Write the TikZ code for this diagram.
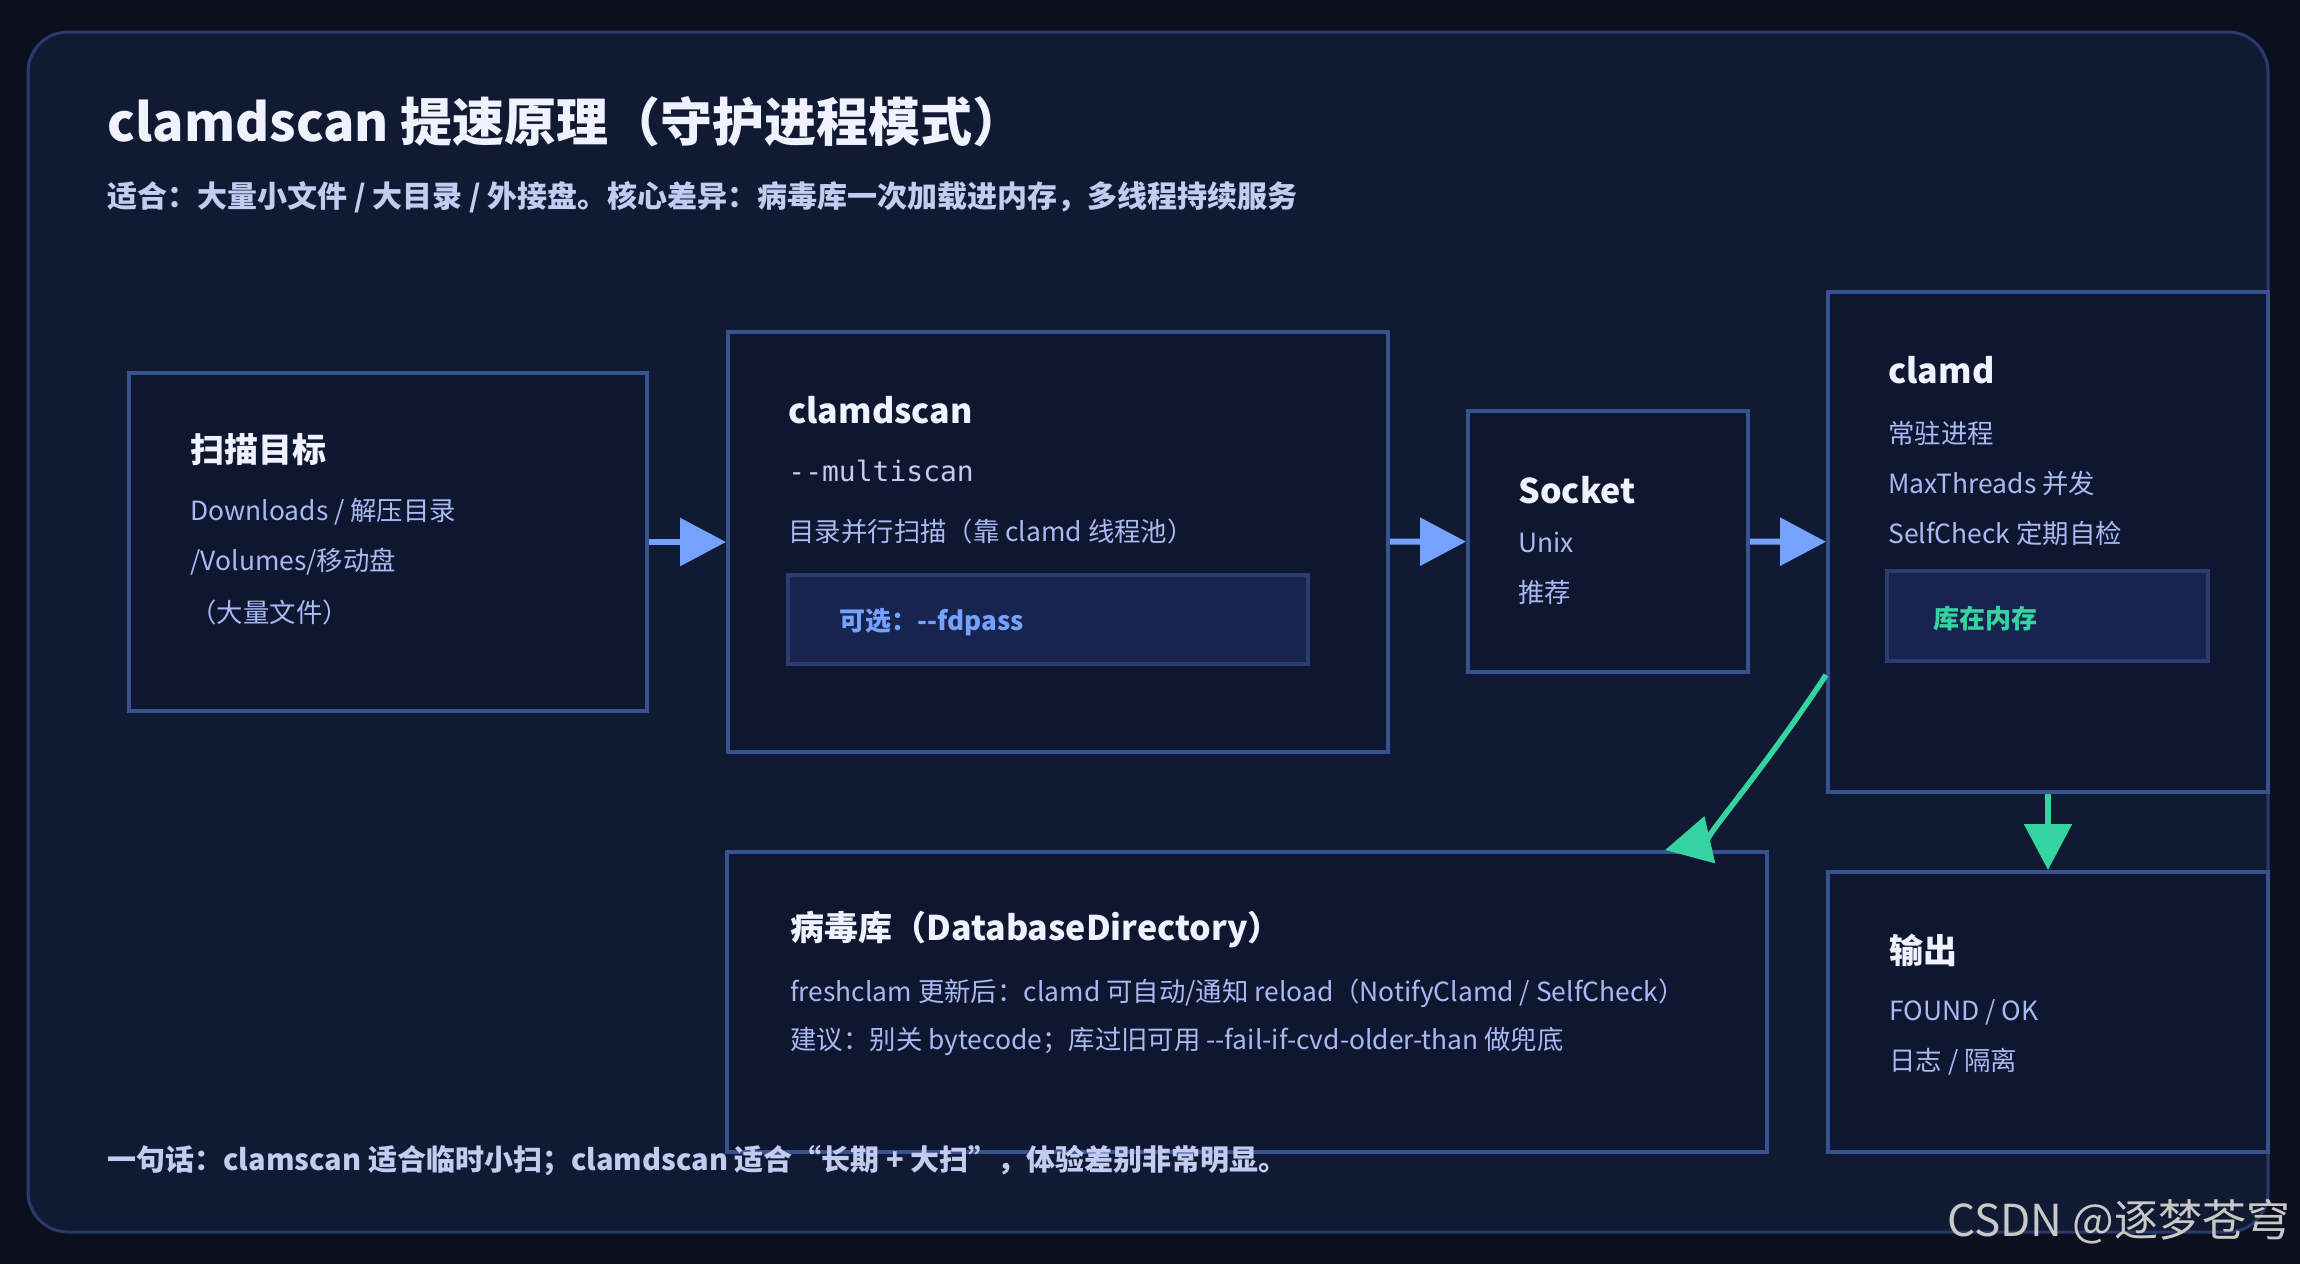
\documentclass[tikz,border=0pt]{standalone}
\usepackage{fontspec}
\setmainfont{Noto Sans CJK SC}
\setmonofont{DejaVu Sans Mono}
\usetikzlibrary{arrows.meta}

\definecolor{pagebg}{HTML}{0B0F1E}
\definecolor{panelbg}{HTML}{111A33}
\definecolor{panelrim}{HTML}{2A3A6C}
\definecolor{boxbg}{HTML}{0E1630}
\definecolor{boxrim}{HTML}{36528F}
\definecolor{tagbg}{HTML}{17244F}
\definecolor{tagrim}{HTML}{2A3C70}
\definecolor{flowblue}{HTML}{76A2FF}
\definecolor{mint}{HTML}{34D3A0}
\definecolor{headtxt}{HTML}{F0F3FF}
\definecolor{bodytxt}{HTML}{A9B9F2}
\definecolor{leadtxt}{HTML}{C3CCF0}
\definecolor{wmark}{HTML}{C8C8C8}

\tikzset{
  box/.style={rectangle,draw=boxrim,line width=2pt,fill=boxbg,inner sep=0pt},
  tag/.style={rectangle,draw=tagrim,line width=2pt,fill=tagbg,inner sep=0pt},
  head/.style={anchor=west,inner sep=0pt,text=headtxt,font=\bfseries\fontsize{17}{20}\selectfont},
  body/.style={anchor=west,inner sep=0pt,text=bodytxt,font=\fontsize{13.2}{16}\selectfont},
  lead/.style={anchor=west,inner sep=0pt,text=leadtxt,font=\bfseries\fontsize{14.5}{17}\selectfont},
  flow/.style={draw=flowblue,line width=3pt,-{Triangle[length=23pt,width=23.5pt]}},
  feed/.style={draw=mint,line width=2.75pt,-{Triangle[length=23pt,width=23.5pt]}}
}

\begin{document}
\begin{tikzpicture}[x=0.5pt,y=-0.5pt]
  \useasboundingbox (0,0) rectangle (2300,1264);
  \fill[pagebg] (0,0) rectangle (2300,1264);
  \draw[rounded corners=20pt,line width=1.5pt,draw=panelrim,fill=panelbg] (28,32) rectangle (2268,1232);

  \node[anchor=west,inner sep=0pt,text=headtxt,font=\bfseries\fontsize{26}{30}\selectfont] (title) at (107,122) {clamdscan 提速原理（守护进程模式）};
  \node[lead,font=\bfseries\fontsize{15}{18}\selectfont] (subtitle) at (107,197) {适合：大量小文件 / 大目录 / 外接盘。核心差异：病毒库一次加载进内存，多线程持续服务};

  \node[box,minimum width=259pt,minimum height=169pt] (target) at (388,542) {};
  \node[box,minimum width=330pt,minimum height=210pt] (client) at (1058,542) {};
  \node[tag,minimum width=260pt,minimum height=44.5pt] (fdpass) at (1048,619.5) {};
  \node[box,minimum width=140pt,minimum height=130.5pt] (socket) at (1608,541.5) {};
  \node[box,minimum width=220pt,minimum height=250pt] (daemon) at (2048,542) {};
  \node[tag,minimum width=160.5pt,minimum height=45pt] (inmem) at (2047.5,616) {};
  \node[box,minimum width=520pt,minimum height=150pt] (db) at (1247,1002) {};
  \node[box,minimum width=220pt,minimum height=140pt] (result) at (2048,1012) {};

  \node[head] (target-h) at (190,450) {扫描目标};
  \node[body] (target-1) at (190,512) {Downloads / 解压目录};
  \node[body] (target-2) at (190,562) {/Volumes/移动盘};
  \node[body] (target-3) at (190,612) {（大量文件）};

  \node[head] (client-h) at (788,410) {clamdscan};
  \node[body,text=leadtxt,font=\ttfamily\fontsize{14}{16}\selectfont] (client-1) at (788,471) {--multiscan};
  \node[body] (client-2) at (788,531) {目录并行扫描（靠 clamd 线程池）};
  \node[body,text=flowblue,font=\bfseries\fontsize{13}{16}\selectfont] (fdpass-t) at (839,622) {可选：-\kern0pt-fdpass};

  \node[head] (socket-h) at (1518,490) {Socket};
  \node[body] (socket-1) at (1518,542) {Unix};
  \node[body] (socket-2) at (1518,592) {推荐};

  \node[head] (daemon-h) at (1888,370) {clamd};
  \node[body] (daemon-1) at (1888,433) {常驻进程};
  \node[body] (daemon-2) at (1888,483) {MaxThreads 并发};
  \node[body] (daemon-3) at (1888,533) {SelfCheck 定期自检};
  \node[body,text=mint,font=\bfseries\fontsize{13}{16}\selectfont] (inmem-t) at (1933,619) {库在内存};

  \node[head] (db-h) at (790,930) {病毒库（DatabaseDirectory）};
  \node[body] (db-1) at (790,993) {freshclam 更新后：clamd 可自动/通知 reload（NotifyClamd / SelfCheck）};
  \node[body] (db-2) at (790,1041) {建议：别关 bytecode；库过旧可用 -\kern0pt-fail-if-cvd-older-than 做兜底};

  \node[head] (result-h) at (1889,950) {输出};
  \node[body] (result-1) at (1889,1012) {FOUND / OK};
  \node[body] (result-2) at (1889,1062) {日志 / 隔离};

  \draw[flow] (target) -- (client);
  \draw[flow] (client) -- (socket);
  \draw[flow] (socket) -- (daemon);
  \draw[feed] (daemon) -- (result);
  \draw[feed] ([yshift=59.5pt]daemon.south west) .. controls (1758,778) and (1700,842) .. ([xshift=-52pt]db.north east);

  \node[lead] (footer) at (107,1161) {一句话：clamscan 适合临时小扫；clamdscan 适合“长期 + 大扫”，体验差别非常明显。};
  \node[anchor=west,inner sep=0pt,text=wmark,font=\fontsize{22}{26}\selectfont] (watermark) at (1947,1222) {CSDN @逐梦苍穹};
\end{tikzpicture}
\end{document}
